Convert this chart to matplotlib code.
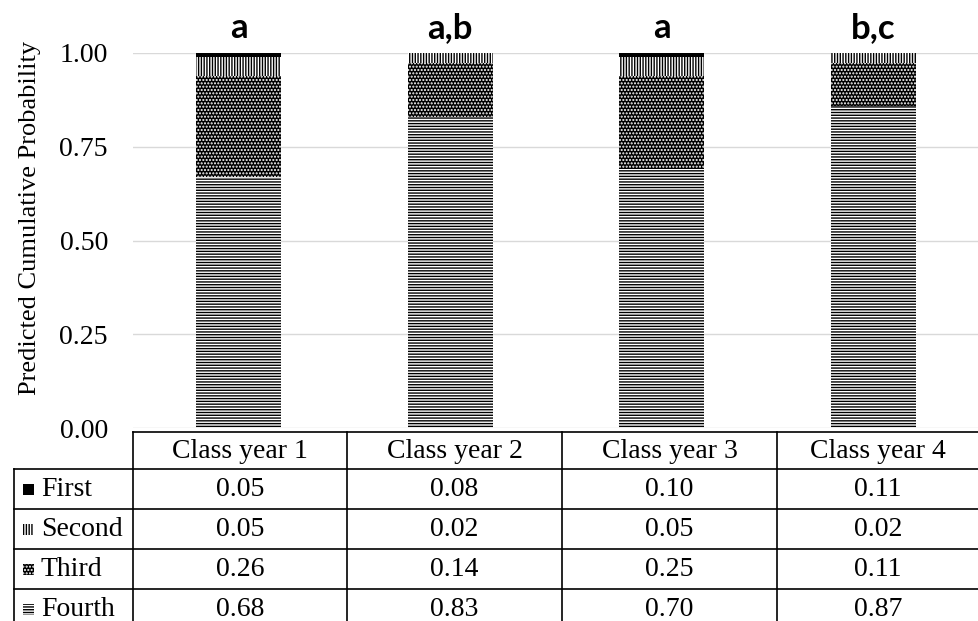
import matplotlib
matplotlib.use("Agg")
import matplotlib.pyplot as plt
from matplotlib.patches import Rectangle

# datos de la tabla
classes = ["Class year 1", "Class year 2", "Class year 3", "Class year 4"]
levels = ["First", "Second", "Third", "Fourth"]
first = [0.05, 0.08, 0.10, 0.11]
second = [0.05, 0.02, 0.05, 0.02]
third = [0.26, 0.14, 0.25, 0.11]
fourth = [0.68, 0.83, 0.70, 0.87]

# alturas de los segmentos tal como se ven en las barras
bar_fourth = [0.67, 0.83, 0.69, 0.86]
bar_third = [0.27, 0.143, 0.25, 0.113]
bar_second = [0.05, 0.027, 0.05, 0.027]
bar_first = [0.01, 0.0, 0.01, 0.0]

letters = ["a", "a,b", "a", "b,c"]
yticks = [0.0, 0.25, 0.50, 0.75, 1.00]

plt.rcParams["font.family"] = ["Liberation Serif", "DejaVu Serif"]
plt.rcParams["hatch.linewidth"] = 1.0

W, H = 979, 621
fig = plt.figure(figsize=(W / 100, H / 100), dpi=100)

# area de barras
x0, x1 = 133, 979
y0, y1 = 428, 53
ax = fig.add_axes([x0 / W, 1 - y0 / H, (x1 - x0) / W, (y0 - y1) / H])

styles = {
    "Fourth": dict(facecolor="white", edgecolor="black", hatch="------"),
    "Third": dict(facecolor="black", edgecolor="white", hatch="....."),
    "Second": dict(facecolor="white", edgecolor="black", hatch="||||||"),
    "First": dict(facecolor="black", edgecolor="black", hatch=None),
}

xs = range(len(classes))
bottom = [0.0] * len(classes)
for name, vals in [("Fourth", bar_fourth), ("Third", bar_third),
                   ("Second", bar_second), ("First", bar_first)]:
    ax.bar(xs, vals, width=0.40, bottom=bottom, linewidth=0, **styles[name])
    bottom = [b + v for b, v in zip(bottom, vals)]

for i, lab in enumerate(letters):
    ax.text(i, 1.025, lab, ha="center", va="bottom", fontsize=25,
            fontweight="bold", family=["Lato", "DejaVu Sans"], clip_on=False)

ax.set_xlim(-0.5, len(classes) - 0.5)
ax.set_ylim(0, 1)
ax.set_yticks(yticks)
ax.set_yticklabels(["%.2f" % t for t in yticks], fontsize=20)
ax.set_xticks([])
ax.tick_params(axis="y", length=0, pad=18)
ax.grid(axis="y", color="#d9d9d9", linewidth=1)
ax.set_axisbelow(True)
for s in ax.spines.values():
    s.set_visible(False)

fig.text(30 / W, 1 - 218 / H, "Predicted Cumulative Probability", rotation=90,
         ha="center", va="center", fontsize=19)

# tabla de datos
tab = fig.add_axes([0, 0, 1, 1])
tab.set_xlim(0, W)
tab.set_ylim(H, 0)
tab.axis("off")

col_edges = [133, 347, 562, 777, 979]
row_edges = [432, 469, 509, 549, 589, 629]
lc = "black"
lw = 1.2

tab.plot([col_edges[0], col_edges[-1]], [row_edges[0], row_edges[0]], color=lc, lw=lw)
for xe in col_edges[:-1]:
    tab.plot([xe, xe], [row_edges[0], H], color=lc, lw=lw)
tab.plot([14, 14], [row_edges[1], H], color=lc, lw=lw)
for ye in row_edges[1:5]:
    tab.plot([14, col_edges[-1]], [ye, ye], color=lc, lw=lw)

for j, c in enumerate(classes):
    xc = (col_edges[j] + col_edges[j + 1]) / 2
    tab.text(xc, (row_edges[0] + row_edges[1]) / 2 + 1, c, ha="center", va="center", fontsize=20)

table_rows = [first, second, third, fourth]
for i, (name, vals) in enumerate(zip(levels, table_rows)):
    yc = (row_edges[i + 1] + row_edges[i + 2]) / 2 + 1
    for j, v in enumerate(vals):
        xc = (col_edges[j] + col_edges[j + 1]) / 2
        tab.text(xc, yc, "%.2f" % v, ha="center", va="center", fontsize=20)
    tab.text(41, yc, name, ha="left", va="center", fontsize=20)
    st = styles[name]
    tab.add_patch(Rectangle((23, yc - 6), 11, 11, linewidth=0,
                            facecolor=st["facecolor"], edgecolor=st["edgecolor"],
                            hatch=st["hatch"]))

fig.savefig("out.png", dpi=100)
